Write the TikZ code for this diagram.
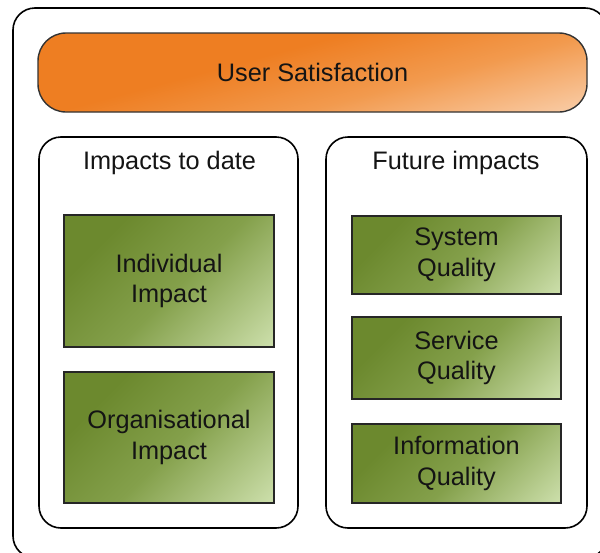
\documentclass[tikz,border=0pt]{standalone}
\usepackage{fontspec}
\setmainfont{Liberation Sans}
\definecolor{odark}{HTML}{EE7E22}
\definecolor{omid}{HTML}{F29A4E}
\definecolor{olight}{HTML}{F9CCA6}
\definecolor{gdark}{HTML}{6C892E}
\definecolor{gmid}{HTML}{84A04B}
\definecolor{glight}{HTML}{CADDA8}
\definecolor{txt}{HTML}{141414}
\pgfdeclareverticalshading{orangeshade}{100bp}{color(0bp)=(olight); color(20bp)=(olight); color(40bp)=(omid); color(58bp)=(odark); color(100bp)=(odark)}
\pgfdeclareverticalshading{greenshade}{100bp}{color(0bp)=(glight); color(16bp)=(glight); color(47bp)=(gmid); color(72bp)=(gdark); color(100bp)=(gdark)}
\begin{document}
\begin{tikzpicture}[x=1pt,y=-1pt,
  every node/.style={font=\fontsize{25.3}{30.5}\selectfont, text=txt, inner sep=0pt, align=center},
  groupbox/.style={draw=black, line width=1.6pt, rounded corners=22pt, fill=white},
  orangebox/.style={draw=black!80, line width=1.4pt, rounded corners=28pt,
    shading=orangeshade, shading angle=15},
  greenbox/.style={draw=black!85, line width=1.4pt,
    shading=greenshade, shading angle=45, minimum width=210pt},
  title/.style={}
]
\useasboundingbox (0,0) rectangle (600,552);
\begin{scope}
\clip (0,0) rectangle (600,552);
\node[groupbox, minimum width=594pt, minimum height=550pt] (outer) at (310,283) {};
\end{scope}
\node[orangebox, minimum width=549pt, minimum height=79pt] (us) at (312.5,72.5) {User Satisfaction};
\node[groupbox, minimum width=259pt, minimum height=391pt] (left) at (168.5,332.5) {};
\node[groupbox, minimum width=261pt, minimum height=391pt] (right) at (456.5,332.5) {};
\node[title] (lt) at (169.5,162.5) {Impacts to date};
\node[title] (rt) at (456,162.5) {Future impacts};
\node[greenbox, minimum height=132pt] (ii) at (169,281) {Individual\\Impact};
\node[greenbox, minimum height=131pt] (oi) at (169,437.5) {Organisational\\Impact};
\node[greenbox, minimum width=209pt, minimum height=78pt] (sq) at (456.5,255) {System\\Quality};
\node[greenbox, minimum width=209pt, minimum height=82pt] (svq) at (456.5,358) {Service\\Quality};
\node[greenbox, minimum width=209pt, minimum height=79pt] (iq) at (456.5,463.5) {Information\\Quality};
\end{tikzpicture}
\end{document}
